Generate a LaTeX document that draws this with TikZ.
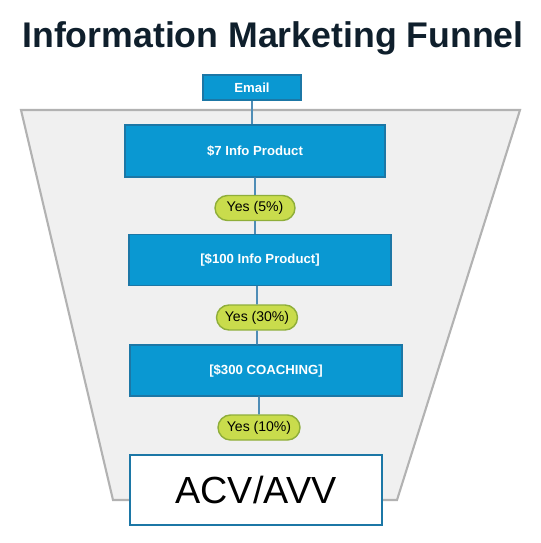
\documentclass[tikz,border=0pt]{standalone}
\usepackage{fontspec}
\setmainfont{Liberation Sans}
\usepackage{tikz}
\usetikzlibrary{arrows.meta,positioning,shapes.misc}
\definecolor{stepblue}{HTML}{0A98D2}
\definecolor{stepedge}{HTML}{1C77A6}
\definecolor{linkblue}{HTML}{4F8DB6}
\definecolor{pillfill}{HTML}{C9DC4C}
\definecolor{pilledge}{HTML}{8FAE3A}
\definecolor{titleink}{HTML}{0F1F2C}

\begin{document}
\begin{tikzpicture}[x=0.02cm, y=-0.02cm,
  stage/.style={draw=stepedge, line width=0.8pt, fill=stepblue, text=white, align=center, font=\fontsize{7.5}{9}\selectfont\bfseries, inner sep=0pt},
  yes/.style={rounded rectangle, draw=pilledge, line width=0.8pt, fill=pillfill, minimum width=1.6cm, minimum height=0.5cm, font=\fontsize{8}{9}\selectfont, inner sep=0pt},
  link/.style={draw=linkblue, line width=1.1pt}
]
\useasboundingbox (0,0) rectangle (540,543);
\node[font=\fontsize{20.3}{24}\selectfont\bfseries, text=titleink] (title) at (273,38) {Information Marketing Funnel};

% funnel body
\filldraw[fill=black!6, draw=black!30, line width=1.2pt] (21,110) -- (520,110) -- (397,500) -- (113,500) -- cycle;

\node[stage, minimum width=1.96cm, minimum height=0.5cm] (email) at (252,87.5) {Email};
\node[stage, minimum width=5.2cm, minimum height=1.04cm] (info7) at (255,151) {\$7 Info Product};
\node[yes] (yes5) at (255,208) {Yes (5\%)};
\node[stage, minimum width=5.24cm, minimum height=1.02cm] (info100) at (260,260) {[\$100 Info Product]};
\node[yes, minimum width=1.62cm] (yes30) at (257,317.5) {Yes (30\%)};
\node[stage, minimum width=5.44cm, minimum height=1.02cm] (coach) at (266,370.5) {[\$300 COACHING]};
\node[yes, minimum width=1.64cm] (yes10) at (259,427.5) {Yes (10\%)};
\node[draw=stepedge, line width=0.9pt, fill=white, minimum width=5.04cm, minimum height=1.4cm, font=\fontsize{21.5}{26}\selectfont] (acv) at (256,490) {ACV/AVV};

\draw[link] (email) -- (email |- info7.north);
\draw[link] (info7.south -| yes5) -- (yes5);
\draw[link] (yes5) -- (yes5 |- info100.north);
\draw[link] (info100.south -| yes30) -- (yes30);
\draw[link] (yes30) -- (yes30 |- coach.north);
\draw[link] (coach.south -| yes10) -- (yes10);
\end{tikzpicture}
\end{document}
